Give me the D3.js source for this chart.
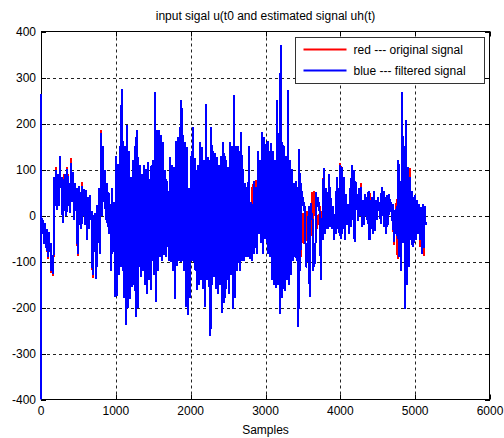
<!DOCTYPE html>
<html>
<head>
<meta charset="utf-8">
<script src="https://cdn.jsdelivr.net/npm/d3@7"></script>
<style>
  body { margin: 0; background: #fff; }
  text { font-family: "Liberation Sans", Arial, sans-serif; fill: #000; }
</style>
</head>
<body>
<div id="chart"></div>
<script>
const chartTitle = "input sigal u(t0 and estimated signal uh(t)";
const xLabel = "Samples";
const xTicks = [0, 1000, 2000, 3000, 4000, 5000, 6000];
const yTicks = [-400, -300, -200, -100, 0, 100, 200, 300, 400];
const legendLabels = ["red --- original signal", "blue --- filtered signal"];
const legendColors = ["#ff0000", "#0000ff"];

// the signals are far denser than the pixels: each block of 25 samples
// is read off the picture as its highest and lowest value
const sampleStep = 25;
const sampleOffset = 2;
// start-up transient of the filter (first two samples)
const leadSamples = [0, 1];
const leadValues = [265, -410];

const filteredHigh = [
  15, -10, -17, -30, -35, -60, -90, 83, 98, 90,
  130, 83, 80, 90, 100, 70, 115, 95, 70, 60,
  65, 50, 65, 58, 55, 40, 45, 10, 0, 5,
  22, 60, 180, 150, 98, 70, 50, 25, 60, 30,
  130, 112, 150, 275, 163, 150, 196, 141, 83, 120,
  150, 185, 127, 110, 91, 110, 100, 116, 80, 110,
  120, 268, 185, 185, 174, 160, 98, 80, 54, 127,
  110, 105, 163, 170, 192, 250, 174, 160, 149, 60,
  130, 192, 126, 98, 110, 159, 148, 120, 243, 127,
  120, 192, 141, 135, 127, 110, 130, 159, 135, 120,
  105, 159, 150, 261, 150, 150, 140, 181, 100, 70,
  62, 152, 30, 25, 76, 62, 141, 120, 181, 170,
  156, 163, 140, 157, 140, 120, 250, 180, 370, 160,
  150, 130, 272, 120, 100, 70, 76, 61, 145, 70,
  40, 17, -70, 20, 26, 4, -60, 51, 40, 4,
  -5, 104, 60, 50, 91, 39, 20, 4, 83, 60,
  109, 105, 83, 47, 25, 60, 109, 98, 76, 47,
  60, 62, 33, 47, 40, 54, 33, 40, 54, 33,
  40, 30, 62, 54, 40, 45, 47, 30, 25, 11,
  20, 120, 76, 268, 150, 207, 105, 83, 54, 40,
  45, 33, 25, 18, 25, 20
];

const filteredLow = [
  -40, -61, -70, -91, -80, -120, -127, 20, 11, 20,
  60, -17, 10, 0, 20, 5, 30, -10, 10, -83,
  -20, -30, 0, -20, -54, -30, -10, -130, -80, -138,
  -60, -83, 0, 30, -10, -25, -40, -120, -80, -178,
  -174, -130, -112, -120, -180, -239, -200, -181, -156, -150,
  -221, -200, -112, -134, -120, -150, -170, -140, -163, -98,
  -130, -188, -120, -90, -98, -85, -90, -69, -98, -100,
  -120, -181, -110, -98, -100, -98, -120, -199, -217, -180,
  -98, -100, -120, -163, -150, -140, -160, -199, -140, -156,
  -261, -150, -134, -160, -170, -150, -213, -190, -180, -140,
  -170, -130, -203, -180, -120, -104, -120, -98, -98, -90,
  -90, -95, -98, -83, -70, -83, -40, -60, -83, -50,
  -60, -83, -90, -140, -150, -157, -150, -214, -180, -160,
  -165, -140, -150, -130, -98, -90, -98, -243, -120, 20,
  15, -113, -100, -178, 5, -120, -105, 18, 18, -141,
  -54, -40, -30, -30, -25, -30, -54, -40, -30, -45,
  -50, -30, -54, -20, -40, -25, -10, -58, 11, -11,
  0, -25, -20, 0, -18, -54, -30, -40, -33, -10,
  11, -18, 0, -25, -40, -20, 18, -11, -58, -40,
  -50, -91, -120, -60, -203, -150, -112, -54, -69, -60,
  -54, -40, -54, -83, -70, -20
];

const originalHigh = [
  15, -10, -17, -30, -35, -60, -90, 83, 105, 90,
  130, 83, 90, 90, 105, 70, 126, 95, 70, 60,
  65, 50, 72, 58, 55, 40, 45, 10, 0, 5,
  22, 60, 186, 150, 98, 70, 50, 25, 60, 30,
  130, 112, 150, 275, 163, 150, 196, 141, 83, 120,
  150, 185, 127, 110, 91, 110, 100, 116, 80, 110,
  120, 268, 185, 185, 174, 160, 98, 80, 54, 127,
  110, 105, 163, 170, 192, 250, 174, 160, 149, 60,
  130, 192, 126, 98, 110, 159, 148, 120, 243, 127,
  120, 192, 141, 135, 127, 110, 130, 159, 135, 120,
  105, 159, 150, 261, 150, 150, 140, 181, 100, 70,
  62, 152, 30, 68, 76, 78, 141, 120, 181, 170,
  156, 163, 140, 157, 140, 120, 250, 180, 370, 160,
  150, 130, 272, 120, 100, 70, 76, 61, 145, 10,
  5, 0, 10, 20, 0, 50, 54, 10, 0, 20,
  10, 104, 60, 50, 91, 39, 20, 4, 83, 60,
  115, 105, 83, 47, 25, 60, 109, 98, 76, 47,
  60, 70, 33, 47, 40, 54, 48, 40, 54, 33,
  40, 30, 62, 54, 40, 45, 47, 30, 25, 11,
  35, 120, 76, 268, 150, 207, 105, 104, 54, 40,
  45, 33, 25, 18, 25, 20
];

const originalLow = [
  -40, -61, -70, -95, -80, -126, -132, 20, 11, 20,
  60, -17, 10, 0, 20, 5, 30, -10, 10, -88,
  -20, -30, 0, -20, -54, -30, -10, -136, -80, -138,
  -60, -83, 0, 30, -10, -25, -40, -120, -80, -178,
  -174, -130, -112, -120, -180, -239, -200, -181, -156, -150,
  -221, -200, -112, -134, -120, -150, -170, -140, -163, -98,
  -130, -188, -120, -90, -98, -85, -90, -69, -98, -100,
  -120, -181, -110, -98, -100, -98, -120, -199, -217, -180,
  -98, -100, -120, -163, -150, -140, -160, -199, -140, -156,
  -261, -150, -134, -160, -170, -150, -213, -190, -180, -140,
  -170, -130, -203, -180, -120, -104, -120, -98, -98, -90,
  -90, -95, -98, -83, -70, -83, -40, -60, -83, -50,
  -60, -83, -90, -140, -150, -157, -150, -214, -180, -160,
  -165, -140, -150, -130, -98, -90, -98, -243, -120, -60,
  -62, -55, -40, -40, -45, -10, 0, -30, -20, -30,
  -40, -40, -30, -30, -25, -30, -54, -40, -30, -45,
  -50, -30, -54, -20, -40, -25, -10, -58, 11, -11,
  0, -25, -20, 0, -18, -54, -30, -40, -33, -10,
  11, -18, 0, -25, -40, -20, 18, -11, -65, -40,
  -95, -91, -120, -60, -203, -150, -112, -54, -69, -60,
  -54, -40, -69, -83, -88, -20
];

const width = 504, height = 438;
const plot = { left: 41, right: 490, top: 31.5, bottom: 399.5 };

const svg = d3.select("#chart")
  .append("svg")
  .attr("width", width)
  .attr("height", height);

svg.append("rect")
  .attr("width", width)
  .attr("height", height)
  .attr("fill", "#fff");

const x = d3.scaleLinear().domain([0, 6000]).range([plot.left, plot.right]);
const y = d3.scaleLinear().domain([-400, 400]).range([plot.bottom, plot.top]);

// grid
const grid = svg.append("g")
  .attr("stroke", "#222")
  .attr("stroke-width", 1)
  .attr("stroke-dasharray", "3,3");

grid.selectAll(".gx")
  .data(xTicks.slice(1, -1))
  .enter()
  .append("line")
  .attr("x1", (d) => Math.round(x(d)) + 0.5)
  .attr("x2", (d) => Math.round(x(d)) + 0.5)
  .attr("y1", plot.top)
  .attr("y2", plot.bottom);

grid.selectAll(".gy")
  .data(yTicks.slice(1, -1))
  .enter()
  .append("line")
  .attr("x1", plot.left)
  .attr("x2", plot.right)
  .attr("y1", (d) => Math.round(y(d)) + 0.5)
  .attr("y2", (d) => Math.round(y(d)) + 0.5);

// box and inward ticks
svg.append("rect")
  .attr("x", plot.left + 0.5)
  .attr("y", plot.top)
  .attr("width", plot.right - plot.left - 1)
  .attr("height", plot.bottom - plot.top)
  .attr("fill", "none")
  .attr("stroke", "#000");

const tickLen = 5;
const ticks = svg.append("g").attr("stroke", "#000");
xTicks.forEach((t) => {
  const px = Math.round(x(t)) + 0.5;
  ticks.append("line").attr("x1", px).attr("x2", px)
    .attr("y1", plot.bottom).attr("y2", plot.bottom - tickLen);
  ticks.append("line").attr("x1", px).attr("x2", px)
    .attr("y1", plot.top).attr("y2", plot.top + tickLen);
});
yTicks.forEach((t) => {
  const py = Math.round(y(t)) + 0.5;
  ticks.append("line").attr("x1", plot.left).attr("x2", plot.left + tickLen)
    .attr("y1", py).attr("y2", py);
  ticks.append("line").attr("x1", plot.right).attr("x2", plot.right - tickLen)
    .attr("y1", py).attr("y2", py);
});

// tick labels
svg.append("g")
  .selectAll("text")
  .data(xTicks)
  .enter()
  .append("text")
  .attr("x", (d) => x(d))
  .attr("y", 415)
  .attr("text-anchor", "middle")
  .attr("font-size", "12px")
  .text((d) => d);

svg.append("g")
  .selectAll("text")
  .data(yTicks)
  .enter()
  .append("text")
  .attr("x", 36)
  .attr("y", (d) => y(d) + 4)
  .attr("text-anchor", "end")
  .attr("font-size", "12px")
  .text((d) => d);

svg.append("text")
  .attr("x", (plot.left + plot.right) / 2)
  .attr("y", 434)
  .attr("text-anchor", "middle")
  .attr("font-size", "12px")
  .text(xLabel);

svg.append("text")
  .attr("x", (plot.left + plot.right) / 2)
  .attr("y", 20)
  .attr("text-anchor", "middle")
  .attr("font-size", "12px")
  .text(chartTitle);

// signals
svg.append("clipPath")
  .attr("id", "clip")
  .append("rect")
  .attr("x", plot.left - 1)
  .attr("y", plot.top)
  .attr("width", plot.right - plot.left + 1)
  .attr("height", plot.bottom - plot.top);

const line = d3.line()
  .x((d) => x(d[0]))
  .y((d) => y(d[1]));

// within each block the line runs through its high value, then its low value
function blockPoints(highs, lows) {
  const pts = [];
  highs.forEach((h, i) => {
    const s = sampleOffset + i * sampleStep;
    pts.push([s, h]);
    pts.push([s + Math.round(sampleStep / 2), lows[i]]);
  });
  return pts;
}

const originalPts = blockPoints(originalHigh, originalLow);
const filteredPts = leadSamples.map((s, i) => [s, leadValues[i]])
  .concat(blockPoints(filteredHigh, filteredLow));

const series = svg.append("g")
  .attr("clip-path", "url(#clip)")
  .attr("shape-rendering", "crispEdges");
series.append("path")
  .datum(originalPts)
  .attr("fill", "none")
  .attr("stroke", legendColors[0])
  .attr("stroke-width", 2)
  .attr("d", line);
series.append("path")
  .datum(filteredPts)
  .attr("fill", "none")
  .attr("stroke", legendColors[1])
  .attr("stroke-width", 2)
  .attr("d", line);

// legend
const legend = svg.append("g").attr("transform", "translate(295.5, 37.5)");
legend.append("rect")
  .attr("width", 189)
  .attr("height", 46)
  .attr("fill", "#fff")
  .attr("stroke", "#333");
legendLabels.forEach((label, i) => {
  const ly = 12 + i * 21;
  legend.append("line")
    .attr("x1", 8).attr("x2", 51)
    .attr("y1", ly).attr("y2", ly)
    .attr("stroke", legendColors[i])
    .attr("stroke-width", 2);
  legend.append("text")
    .attr("x", 58)
    .attr("y", ly + 4)
    .attr("font-size", "12px")
    .text(label);
});
</script>
</body>
</html>
